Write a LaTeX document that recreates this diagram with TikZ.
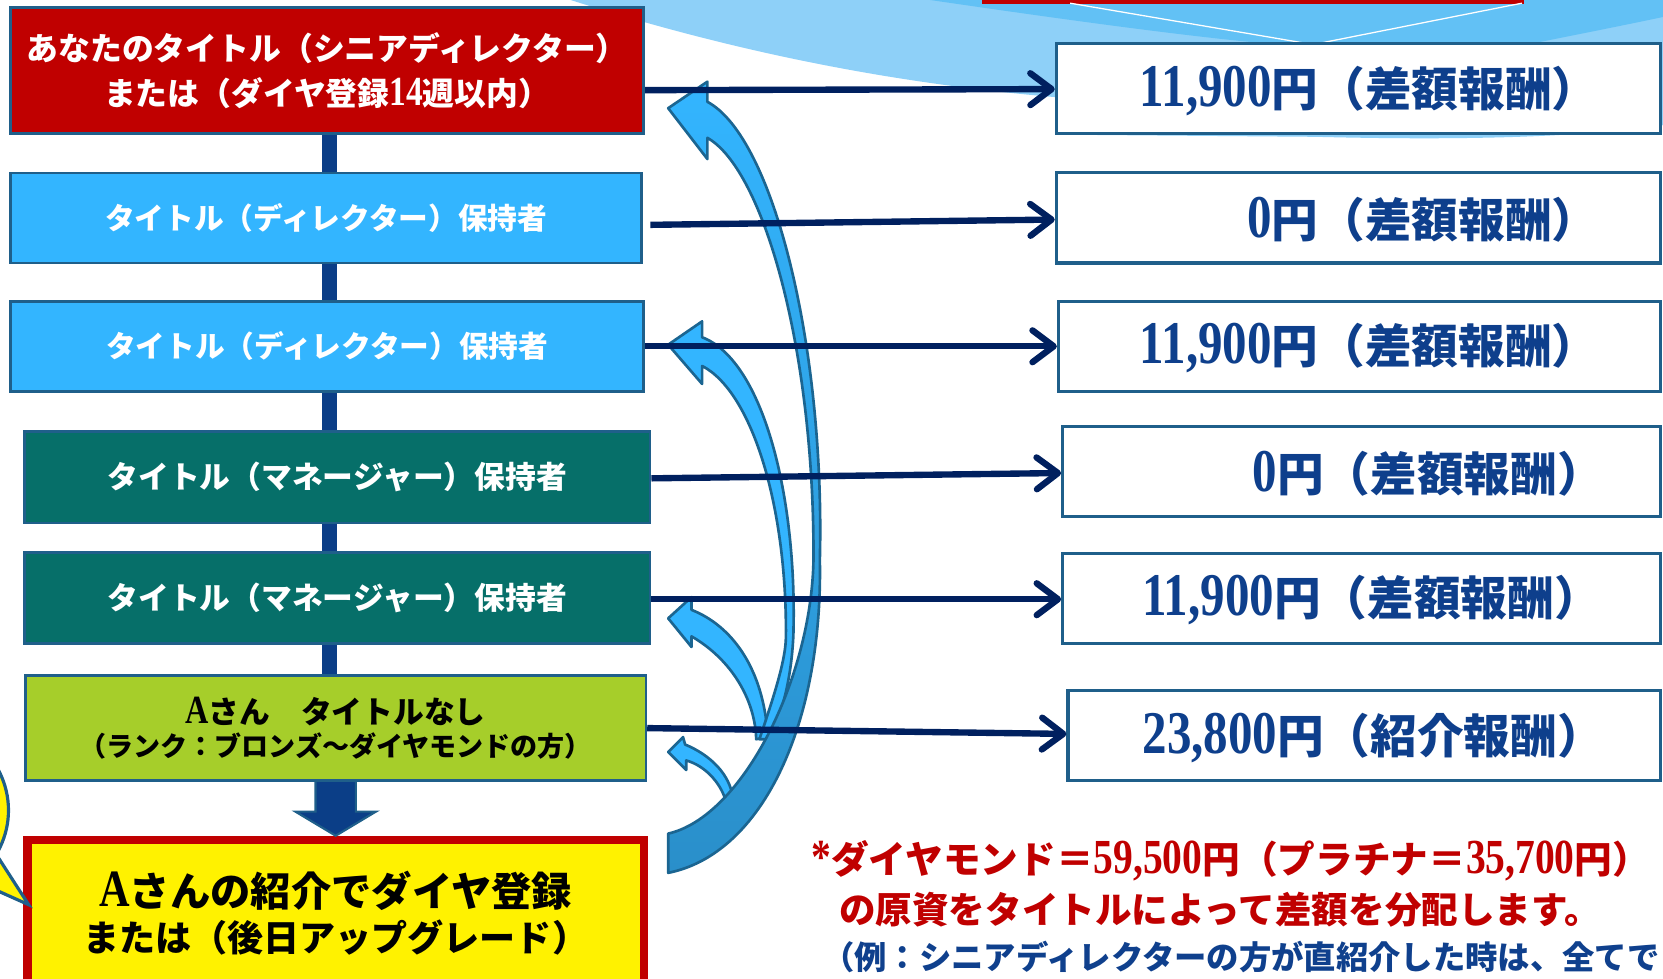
\documentclass[tikz,border=0pt]{standalone}
\usepackage{fontspec}
\usepackage{graphicx}
\setmainfont{Liberation Serif}
\newfontfamily\jp{Noto Sans CJK JP}
\usetikzlibrary{arrows.meta,backgrounds,calc}
\definecolor{bord}{HTML}{1F5F8A}
\definecolor{redbox}{HTML}{C00000}
\definecolor{skyb}{HTML}{33B5FF}
\definecolor{tealb}{HTML}{066F69}
\definecolor{greenb}{HTML}{A6CE2A}
\definecolor{spinec}{HTML}{0B3E87}
\definecolor{navy}{HTML}{00205F}
\definecolor{moneyc}{HTML}{0E3F8C}
\definecolor{bluetext}{HTML}{0F408D}
\definecolor{arrb}{HTML}{1B6591}
\definecolor{darkarr}{HTML}{2A8FCA}
\definecolor{lightbg}{HTML}{8ED0F8}
\definecolor{darkbg}{HTML}{62C1F5}
\newcommand{\dg}[1]{\scalebox{1.05}[1.3]{\rmfamily\bfseries #1}}
\begin{document}
\begin{tikzpicture}[x=1pt,y=-1pt,
  lbox/.style={draw=bord, line width=2.5pt, inner sep=0pt, align=center},
  rbox/.style={draw=bord, line width=3pt, fill=white, inner sep=0pt, minimum height=85},
  money/.style={text=moneyc, inner sep=0pt, anchor=east, font=\jp\bfseries\fontsize{44}{48}\selectfont},
  harrow/.style={draw=navy, line width=6pt, -{Straight Barb[length=20pt 0 0,width=30pt 0 0,round]}},
  curved/.style={draw=arrb, line width=2.5pt, line join=round, fill=skyb},
  note/.style={anchor=west, inner sep=0pt}
]
\useasboundingbox (0,0) rectangle (1568,923);

% left boxes
\node[lbox, fill=redbox, text=white, minimum width=597, minimum height=119,
  font=\jp\bfseries\fontsize{30}{42}\selectfont] (b1) at (308.5,66.5)
  {あなたのタイトル（シニアディレクター）\\または（ダイヤ登録\dg{14}週以内）};
\node[lbox, fill=skyb, text=white, minimum width=595, minimum height=85,
  font=\jp\bfseries\fontsize{28}{32}\selectfont] (b2) at (307.5,205.5)
  {タイトル（ディレクター）保持者};
\node[lbox, fill=skyb, text=white, minimum width=597, minimum height=85,
  font=\jp\bfseries\fontsize{28}{32}\selectfont] (b3) at (308.5,326.5)
  {タイトル（ディレクター）保持者};
\node[lbox, fill=tealb, text=white, minimum width=590, minimum height=86,
  font=\jp\bfseries\fontsize{29}{32}\selectfont] (b4) at (318,450)
  {タイトル（マネージャー）保持者};
\node[lbox, fill=tealb, text=white, minimum width=590, minimum height=86,
  font=\jp\bfseries\fontsize{29}{32}\selectfont] (b5) at (318,564)
  {タイトル（マネージャー）保持者};
\node[lbox, fill=greenb, text=black, minimum width=585, minimum height=99,
  font=\jp\bfseries] (b6) at (316.5,686.5)
  {{\fontsize{29}{39}\selectfont \dg{A}さん　タイトルなし}\\[5pt]{\fontsize{25.5}{30}\selectfont（ランク：ブロンズ～ダイヤモンドの方）}};
\node[draw=redbox, line width=8pt, fill=yellow, inner sep=0pt, align=center, text=black,
  minimum width=581, minimum height=138, font=\jp\bfseries] (b7) at (316.5,861)
  {{\fontsize{38}{40}\selectfont \dg{A}さんの紹介でダイヤ登録}\\[7pt]{\fontsize{34}{38}\selectfont または（後日アップグレード）}};

% right boxes
\node[rbox, minimum width=570] (r1) at (1281,83.5) {};
\node[rbox, minimum width=570] (r2) at (1281,205.5) {};
\node[rbox, minimum width=568] (r3) at (1282,326.5) {};
\node[rbox, minimum width=564] (r4) at (1284,444.5) {};
\node[rbox, minimum width=564] (r5) at (1284,564) {};
\node[rbox, minimum width=559] (r6) at (1286.5,693.5) {};
\node[money] (t1) at ($(r1.east)+(-60,2)$) {\dg{11,900}円（差額報酬）};
\node[money] (t2) at ($(r2.east)+(-60,2)$) {\dg{0}円（差額報酬）};
\node[money] (t3) at ($(r3.east)+(-60,2)$) {\dg{11,900}円（差額報酬）};
\node[money] (t4) at ($(r4.east)+(-55,2)$) {\dg{0}円（差額報酬）};
\node[money] (t5) at ($(r5.east)+(-58,2)$) {\dg{11,900}円（差額報酬）};
\node[money] (t6) at ($(r6.east)+(-55,2)$) {\dg{23,800}円（紹介報酬）};

% background: top decoration and spine
\begin{scope}[on background layer]
  \fill[lightbg] (538,0) .. controls (680,45) and (830,78) .. (1000,92) -- (1000,127)
    -- (1240,129) .. controls (1400,133) and (1500,128) .. (1568,118) -- (1568,0) -- cycle;
  \fill[darkbg] (877,0) .. controls (980,15) and (1120,35) .. (1206,42) -- (1440,42)
    .. controls (1500,30) and (1540,22) .. (1568,16) -- (1568,0) -- cycle;
  \fill[redbox] (926,0) rectangle (1437,4);
  \draw[white, line width=1.2pt] (1009,3) -- (1238,42) -- (1435,3);
  \coordinate (sp) at (311,0);
  \draw[spinec, line width=14pt] (b1.south -| sp) -- (b6.south -| sp);
\end{scope}

% block arrow down
\draw[draw=bord, line width=2pt, fill=spinec, line join=miter]
  ($(b6.south)+(-19,-1)$) -- ($(b6.south)+(-19,28)$) -- ($(b6.south)+(-38,28)$)
  -- (b7.north) -- ($(b6.south)+(38,28)$) -- ($(b6.south)+(19,28)$)
  -- ($(b6.south)+(19,-1)$) -- cycle;

% curved arrows
\path[curved] (630,709) -- (644,695) -- (646,702) .. controls (670,712) and (688,730) .. (691,752)
  -- (684,754) .. controls (679,738) and (665,722) .. (647,717) -- (647,726) -- cycle;
\path[curved] (630,583) -- (652,563) -- (652,575) .. controls (690,590) and (720,630) .. (724,695)
  -- (713,697) .. controls (712,660) and (690,622) .. (652,600) -- (652,610) -- cycle;
\path[curved] (630,325) -- (662,303) -- (662,318) .. controls (720,340) and (752,470) .. (748,600)
  .. controls (746,640) and (738,670) .. (726,697) -- (716,697) .. controls (732,650) and (741,620) .. (741,600)
  .. controls (742,480) and (710,370) .. (662,345) -- (662,362) -- cycle;
\path[curved, top color=skyb, middle color=skyb, bottom color=darkarr]
  (630,102) -- (667,77) -- (667,96) .. controls (730,130) and (778,330) .. (773,528)
  .. controls (776,680) and (720,805) .. (630,823) -- (630,786)
  .. controls (700,770) and (765,640) .. (767,528)
  .. controls (768,330) and (720,160) .. (667,130) -- (667,150) -- cycle;

% horizontal arrows
\draw[harrow] ($(b1.east)+(0,18.5)$) -- ($(r1.west)+(0,0.5)$);
\draw[harrow] ($(b2.east)+(7,6.5)$) -- ($(r2.west)+(0,1.5)$);
\draw[harrow] (b3.east) -- (r3.west);
\draw[harrow] ($(b4.east)+(0,1)$) -- ($(r4.west)+(0,1.5)$);
\draw[harrow] ($(b5.east)+(0,1)$) -- ($(r5.west)+(0,1)$);
\draw[harrow] (b6.east) -- ($(r6.west)+(0,-1.5)$);

% callout at left edge
\draw[bord, line width=3pt, fill=yellow] (-92,764) ellipse [x radius=100, y radius=89];
\draw[bord, line width=3pt, fill=yellow, line join=miter] (-20,780) -- (27,853) -- (-20,832);

% notes
\node[note, text=redbox, font=\jp\bfseries\fontsize{35.5}{40}\selectfont] (n1) at (765,812)
  {\dg{*}ダイヤモンド＝\dg{59,500}円（プラチナ＝\dg{35,700}円）};
\node[note, text=redbox, font=\jp\bfseries\fontsize{34.5}{38}\selectfont] (n2) at (791,858)
  {の原資をタイトルによって差額を分配します。};
\node[note, text=bluetext, font=\jp\bfseries\fontsize{30.5}{34}\selectfont] (n3) at (775,902)
  {（例：シニアディレクターの方が直紹介した時は、全てで};
\end{tikzpicture}
\end{document}
